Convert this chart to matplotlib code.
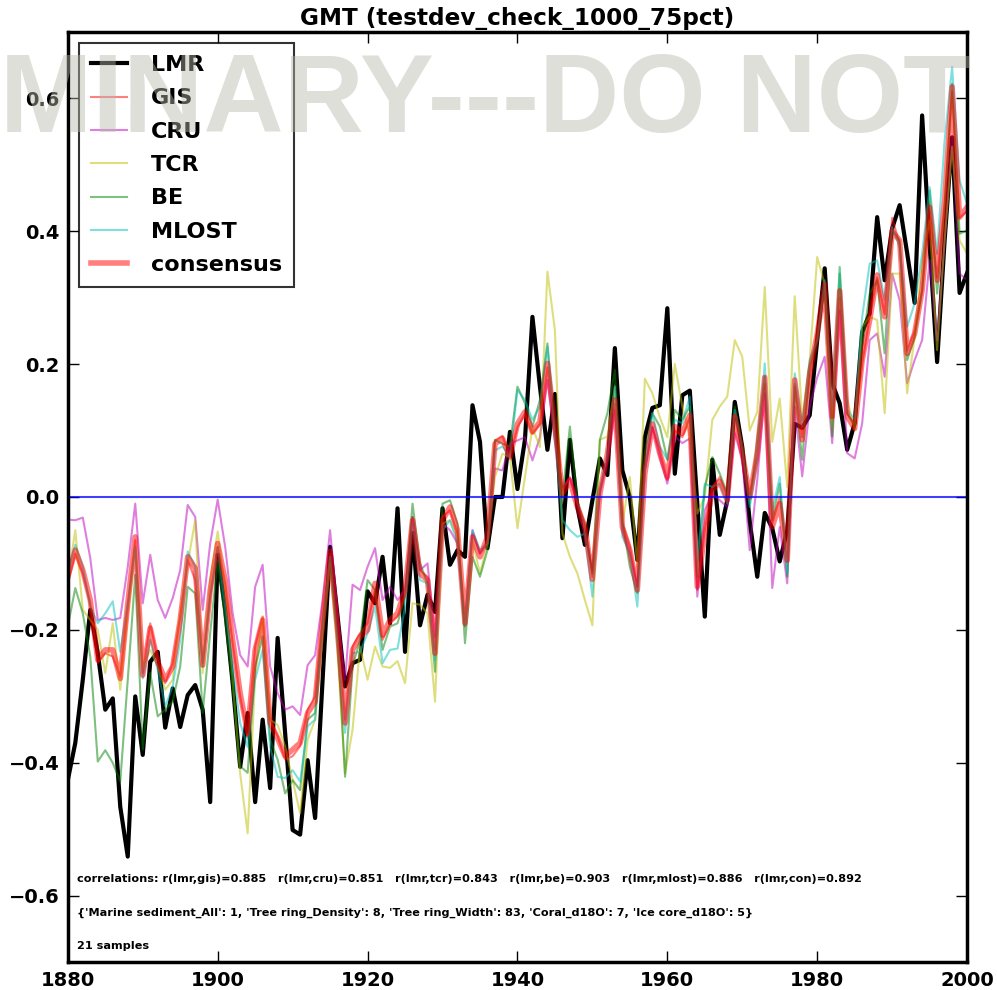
import numpy as np
import matplotlib.pyplot as plt

# annual global mean temperature anomalies, 1880-2000
years = np.arange(1880, 2001)

lmr = [-0.426, -0.370, -0.275, -0.170, -0.235, -0.320, -0.303, -0.466, -0.541, -0.300,
       -0.388, -0.248, -0.233, -0.347, -0.288, -0.346, -0.298, -0.283, -0.320, -0.459,
       -0.087, -0.170, -0.280, -0.406, -0.325, -0.459, -0.335, -0.438, -0.212, -0.355,
       -0.501, -0.508, -0.396, -0.483, -0.275, -0.075, -0.180, -0.285, -0.250, -0.245,
       -0.142, -0.160, -0.090, -0.190, -0.017, -0.233, -0.054, -0.193, -0.147, -0.173,
       -0.017, -0.102, -0.080, -0.090, 0.138, 0.083, -0.077, 0.000, 0.000, 0.098,
       0.012, 0.086, 0.271, 0.166, 0.071, 0.155, -0.062, 0.086, -0.015, -0.072,
       -0.005, 0.058, 0.033, 0.224, 0.040, 0.000, -0.095, 0.090, 0.134, 0.138,
       0.284, 0.035, 0.153, 0.160, -0.010, -0.180, 0.056, -0.057, -0.005, 0.143,
       0.075, -0.037, -0.120, -0.024, -0.047, -0.097, -0.050, 0.110, 0.104, 0.123,
       0.236, 0.344, 0.171, 0.141, 0.071, 0.111, 0.248, 0.276, 0.421, 0.326,
       0.404, 0.439, 0.367, 0.292, 0.574, 0.380, 0.203, 0.386, 0.541, 0.307, 0.337]

gis = [-0.130, -0.085, -0.115, -0.160, -0.250, -0.235, -0.240, -0.270, -0.165, -0.065,
       -0.265, -0.190, -0.245, -0.280, -0.250, -0.180, -0.095, -0.125, -0.250, -0.150,
       -0.075, -0.130, -0.220, -0.300, -0.360, -0.225, -0.180, -0.335, -0.360, -0.395,
       -0.390, -0.375, -0.320, -0.300, -0.180, -0.085, -0.195, -0.335, -0.225, -0.205,
       -0.190, -0.140, -0.215, -0.190, -0.180, -0.145, -0.030, -0.110, -0.120, -0.230,
       -0.030, -0.020, -0.055, -0.185, -0.055, -0.085, -0.065, 0.085, 0.092, 0.060,
       0.105, 0.125, 0.095, 0.110, 0.195, 0.100, 0.010, 0.030, -0.010, -0.040,
       -0.120, 0.010, 0.060, 0.140, -0.040, -0.075, -0.135, 0.040, 0.105, 0.070,
       0.025, 0.100, 0.090, 0.120, -0.140, -0.050, 0.015, 0.030, 0.000, 0.125,
       0.060, 0.005, 0.060, 0.170, -0.040, 0.000, -0.090, 0.170, 0.090, 0.180,
       0.250, 0.310, 0.120, 0.300, 0.125, 0.110, 0.200, 0.270, 0.330, 0.275,
       0.420, 0.380, 0.220, 0.250, 0.310, 0.430, 0.330, 0.440, 0.610, 0.420, 0.430]

cru = [-0.034, -0.035, -0.031, -0.092, -0.185, -0.182, -0.185, -0.182, -0.105, -0.010,
       -0.160, -0.087, -0.155, -0.182, -0.152, -0.110, -0.012, -0.030, -0.170, -0.070,
       -0.004, -0.075, -0.175, -0.238, -0.255, -0.135, -0.102, -0.255, -0.295, -0.320,
       -0.315, -0.328, -0.253, -0.238, -0.155, -0.050, -0.175, -0.275, -0.132, -0.140,
       -0.105, -0.077, -0.155, -0.135, -0.155, -0.140, -0.030, -0.110, -0.100, -0.210,
       -0.040, -0.050, -0.070, -0.195, -0.050, -0.085, -0.070, 0.043, 0.040, 0.080,
       0.085, 0.090, 0.055, 0.090, 0.176, 0.085, 0.015, 0.028, -0.010, -0.055,
       -0.110, 0.005, 0.055, 0.131, -0.050, -0.085, -0.135, 0.040, 0.106, 0.060,
       0.020, 0.091, 0.081, 0.088, -0.150, -0.020, 0.005, -0.005, -0.015, 0.096,
       0.056, -0.080, 0.026, 0.156, -0.137, -0.045, -0.130, 0.136, 0.031, 0.136,
       0.180, 0.211, 0.081, 0.281, 0.066, 0.058, 0.111, 0.236, 0.246, 0.181,
       0.336, 0.296, 0.171, 0.206, 0.236, 0.356, 0.236, 0.386, 0.542, 0.336, 0.326]

tcr = [-0.125, -0.050, -0.170, -0.185, -0.200, -0.265, -0.190, -0.290, -0.175, -0.075,
       -0.255, -0.230, -0.255, -0.290, -0.275, -0.175, -0.100, -0.035, -0.265, -0.125,
       -0.052, -0.140, -0.275, -0.416, -0.506, -0.270, -0.180, -0.335, -0.343, -0.375,
       -0.426, -0.476, -0.365, -0.335, -0.210, -0.100, -0.235, -0.416, -0.350, -0.225,
       -0.275, -0.225, -0.255, -0.257, -0.247, -0.280, -0.160, -0.162, -0.175, -0.308,
       -0.040, -0.035, -0.060, -0.195, -0.065, -0.115, -0.070, 0.030, 0.065, 0.060,
       -0.047, 0.030, 0.105, 0.075, 0.339, 0.251, -0.055, -0.090, -0.115, -0.155,
       -0.193, 0.086, 0.091, 0.166, -0.040, 0.030, -0.105, 0.178, 0.156, 0.120,
       0.090, 0.200, 0.136, 0.090, -0.025, 0.000, 0.116, 0.136, 0.151, 0.236,
       0.211, 0.100, 0.128, 0.316, 0.083, 0.148, 0.015, 0.302, 0.116, 0.206,
       0.361, 0.320, 0.101, 0.346, 0.146, 0.101, 0.256, 0.271, 0.266, 0.126,
       0.336, 0.336, 0.156, 0.241, 0.356, 0.416, 0.221, 0.386, 0.527, 0.386, 0.366]

be = [-0.195, -0.137, -0.175, -0.240, -0.398, -0.381, -0.400, -0.428, -0.275, -0.117,
      -0.380, -0.265, -0.330, -0.320, -0.308, -0.255, -0.135, -0.145, -0.325, -0.205,
      -0.095, -0.185, -0.285, -0.405, -0.415, -0.255, -0.210, -0.365, -0.395, -0.446,
      -0.426, -0.441, -0.335, -0.325, -0.190, -0.090, -0.215, -0.421, -0.255, -0.215,
      -0.125, -0.140, -0.230, -0.195, -0.190, -0.150, -0.010, -0.100, -0.130, -0.263,
      -0.010, -0.005, -0.040, -0.220, -0.090, -0.120, -0.080, 0.086, 0.080, 0.076,
      0.166, 0.141, 0.106, 0.146, 0.231, 0.106, 0.000, 0.106, -0.005, -0.045,
      -0.115, 0.086, 0.126, 0.191, -0.035, -0.105, -0.145, 0.066, 0.126, 0.106,
      0.056, 0.131, 0.116, 0.136, -0.120, 0.015, 0.060, 0.035, 0.005, 0.136,
      0.076, -0.010, 0.086, 0.181, -0.035, 0.020, -0.120, 0.166, 0.056, 0.196,
      0.236, 0.316, 0.091, 0.336, 0.126, 0.106, 0.226, 0.306, 0.326, 0.216,
      0.401, 0.386, 0.206, 0.241, 0.311, 0.461, 0.306, 0.436, 0.622, 0.396, 0.401]

mlost = [-0.115, -0.072, -0.105, -0.165, -0.190, -0.175, -0.157, -0.233, -0.160, -0.075,
         -0.273, -0.215, -0.260, -0.315, -0.285, -0.215, -0.082, -0.105, -0.255, -0.150,
         -0.075, -0.165, -0.255, -0.340, -0.376, -0.275, -0.230, -0.376, -0.421, -0.423,
         -0.411, -0.428, -0.345, -0.335, -0.195, -0.090, -0.215, -0.355, -0.235, -0.233,
         -0.205, -0.165, -0.250, -0.230, -0.228, -0.165, -0.040, -0.125, -0.130, -0.245,
         -0.050, -0.035, -0.070, -0.195, -0.050, -0.080, -0.070, 0.070, 0.076, 0.060,
         0.161, 0.146, 0.116, 0.136, 0.226, 0.086, -0.035, -0.050, -0.060, -0.055,
         -0.150, 0.011, 0.065, 0.166, -0.060, -0.085, -0.165, 0.040, 0.126, 0.076,
         0.056, 0.116, 0.111, 0.151, -0.095, 0.020, 0.015, 0.020, -0.010, 0.131,
         0.071, -0.015, 0.056, 0.201, -0.020, 0.030, -0.115, 0.186, 0.106, 0.206,
         0.236, 0.326, 0.136, 0.346, 0.131, 0.116, 0.271, 0.351, 0.356, 0.296,
         0.406, 0.376, 0.256, 0.291, 0.366, 0.466, 0.366, 0.536, 0.647, 0.476, 0.441]

consensus = [-0.120, -0.080, -0.110, -0.155, -0.245, -0.230, -0.230, -0.273, -0.160, -0.060,
             -0.268, -0.197, -0.248, -0.275, -0.255, -0.185, -0.090, -0.107, -0.253, -0.140,
             -0.070, -0.125, -0.215, -0.295, -0.355, -0.230, -0.185, -0.340, -0.363, -0.390,
             -0.380, -0.370, -0.325, -0.308, -0.185, -0.082, -0.200, -0.340, -0.230, -0.210,
             -0.200, -0.130, -0.208, -0.185, -0.175, -0.140, -0.035, -0.115, -0.125, -0.235,
             -0.035, -0.015, -0.050, -0.190, -0.060, -0.090, -0.060, 0.080, 0.088, 0.060,
             0.110, 0.128, 0.098, 0.113, 0.201, 0.106, 0.005, 0.025, -0.015, -0.045,
             -0.124, 0.005, 0.065, 0.146, -0.045, -0.080, -0.140, 0.035, 0.110, 0.065,
             0.030, 0.106, 0.096, 0.123, -0.135, -0.055, 0.010, 0.023, -0.005, 0.121,
             0.066, 0.000, 0.066, 0.180, -0.045, -0.010, -0.095, 0.176, 0.086, 0.186,
             0.245, 0.320, 0.121, 0.310, 0.121, 0.103, 0.206, 0.266, 0.334, 0.271,
             0.400, 0.386, 0.216, 0.246, 0.311, 0.436, 0.326, 0.446, 0.617, 0.421, 0.436]

corr_labels = ['gis', 'cru', 'tcr', 'be', 'mlost', 'con']
corr_values = [0.885, 0.851, 0.843, 0.903, 0.886, 0.892]
proxy_types = ['Marine sediment_All', 'Tree ring_Density', 'Tree ring_Width',
               'Coral_d18O', 'Ice core_d18O']
proxy_counts = [1, 8, 83, 7, 5]
n_samples = 21

fig = plt.figure(figsize=(9.97, 9.9), dpi=100)
ax = fig.add_axes([0.068, 0.028, 0.902, 0.940])

ax.plot(years, lmr, 'k-', lw=3, label='LMR')
ax.plot(years, gis, 'r-', lw=1.5, alpha=0.5, label='GIS')
ax.plot(years, cru, 'm-', lw=1.5, alpha=0.5, label='CRU')
ax.plot(years, tcr, 'y-', lw=1.5, alpha=0.5, label='TCR')
ax.plot(years, be, 'g-', lw=1.5, alpha=0.5, label='BE')
ax.plot(years, mlost, 'c-', lw=1.5, alpha=0.5, label='MLOST')
ax.plot(years, consensus, 'r-', lw=4, alpha=0.5, label='consensus')
ax.axhline(0, color='b', lw=1.5, alpha=0.75)

ax.set_xlim(1880, 2000)
ax.set_ylim(-0.7, 0.7)
ax.set_xticks(np.arange(1880, 2001, 20))
ax.set_yticks(np.arange(-0.6, 0.61, 0.2))
ax.tick_params(direction='in', top=True, right=True, length=8, width=1,
               labelsize=14, pad=6)
for lbl in ax.get_xticklabels() + ax.get_yticklabels():
    lbl.set_fontweight('bold')
for sp in ax.spines.values():
    sp.set_linewidth(2.5)

ax.set_title('GMT (testdev_check_1000_75pct)', fontsize=16.7, fontweight='bold', pad=5)

leg = ax.legend(loc='upper left', prop={'weight': 'bold', 'size': 16},
                handlelength=1.6, handletextpad=1.1, labelspacing=0.6,
                borderpad=0.55, fancybox=False)
leg.get_frame().set_edgecolor('k')
leg.get_frame().set_linewidth(1.5)

corr_str = 'correlations: ' + '   '.join(
    'r(lmr,%s)=%.3f' % (k, v) for k, v in zip(corr_labels, corr_values))
proxy_str = '{' + ', '.join(
    "'%s': %d" % (k, v) for k, v in zip(proxy_types, proxy_counts)) + '}'
ax.text(0.01, 0.090, corr_str, transform=ax.transAxes, fontsize=8.1,
        fontweight='bold', va='center')
ax.text(0.01, 0.053, proxy_str, transform=ax.transAxes, fontsize=8.1,
        fontweight='bold', va='center')
ax.text(0.01, 0.018, '%d samples' % n_samples, transform=ax.transAxes,
        fontsize=8.1, fontweight='bold', va='center')

# draft watermark across the top
fig.text(-0.328, 0.867, 'PRELIMINARY---DO NOT USE', ha='left', va='baseline',
         family='Liberation Sans', fontweight='bold', fontsize=80,
         color=(0.72, 0.72, 0.68), alpha=0.45, zorder=10)

fig.savefig('out.png', dpi=100)
